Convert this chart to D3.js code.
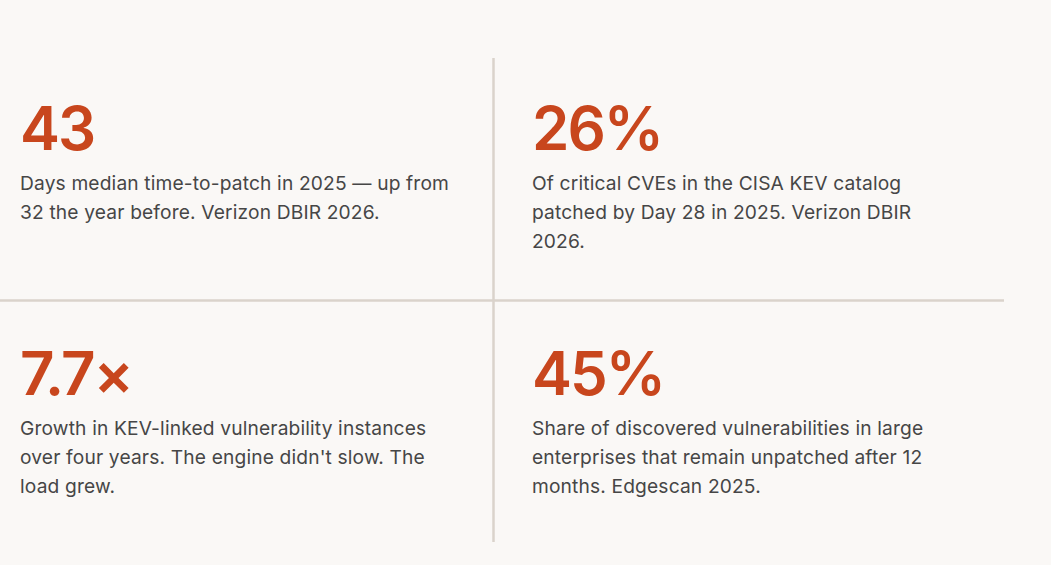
<!DOCTYPE html>
<html>
<head>
<meta charset="utf-8">
<script src="https://cdn.jsdelivr.net/npm/d3@7"></script>
<style>
  html, body { margin: 0; padding: 0; background: #faf8f6; }
  svg { display: block; }
</style>
</head>
<body>
<svg id="chart" width="1051" height="565"></svg>
<script>
const stats = ["43", "26%", "7.7×", "45%"];
const descriptions = [
  "Days median time-to-patch in 2025 — up from 32 the year before. Verizon DBIR 2026.",
  "Of critical CVEs in the CISA KEV catalog patched by Day 28 in 2025. Verizon DBIR 2026.",
  "Growth in KEV-linked vulnerability instances over four years. The engine didn't slow. The load grew.",
  "Share of discovered vulnerabilities in large enterprises that remain unpatched after 12 months. Edgescan 2025."
];
const columns = [0, 1];
const rows = [0, 1];

const W = 1051, H = 565;
const svg = d3.select("#chart");

const colX = d3.scaleOrdinal().domain(columns).range([20, 532]);
const rowY = d3.scaleOrdinal().domain(rows).range([150, 394.5]);

const cells = stats.map((s, i) => ({ stat: s, desc: descriptions[i], col: i % 2, row: Math.floor(i / 2) }));

// divider lines
svg.append("line")
  .attr("x1", 493.5).attr("x2", 493.5)
  .attr("y1", 58).attr("y2", 542)
  .attr("stroke", "#dad3cb").attr("stroke-width", 2.5);
svg.append("line")
  .attr("x1", 0).attr("x2", 1004)
  .attr("y1", 300.5).attr("y2", 300.5)
  .attr("stroke", "#dad3cb").attr("stroke-width", 2.5);

const g = svg.selectAll("g.cell").data(cells).enter().append("g").attr("class", "cell");

g.append("text")
  .attr("x", d => colX(d.col))
  .attr("y", d => rowY(d.row))
  .attr("font-family", "Inter, sans-serif")
  .attr("font-weight", 600)
  .attr("font-size", 60)
  .attr("fill", "#c8461d")
  .attr("letter-spacing", "-2")
  .text(d => d.stat);

const maxW = 435;
g.each(function(d) {
  const t = d3.select(this).append("text")
    .attr("x", colX(d.col))
    .attr("y", rowY(d.row) + 40)
    .attr("font-family", "Inter, sans-serif")
    .attr("font-size", 19.2)
    .attr("letter-spacing", "0.15")
    .attr("fill", "#464646");
  const words = d.desc.split(" ");
  let line = [];
  let tspan = t.append("tspan").attr("x", colX(d.col)).attr("dy", 0);
  words.forEach(w => {
    line.push(w);
    tspan.text(line.join(" "));
    if (tspan.node().getComputedTextLength() > maxW && line.length > 1) {
      line.pop();
      tspan.text(line.join(" "));
      line = [w];
      tspan = t.append("tspan").attr("x", colX(d.col)).attr("dy", 29).text(w);
    }
  });
});
</script>
</body>
</html>
